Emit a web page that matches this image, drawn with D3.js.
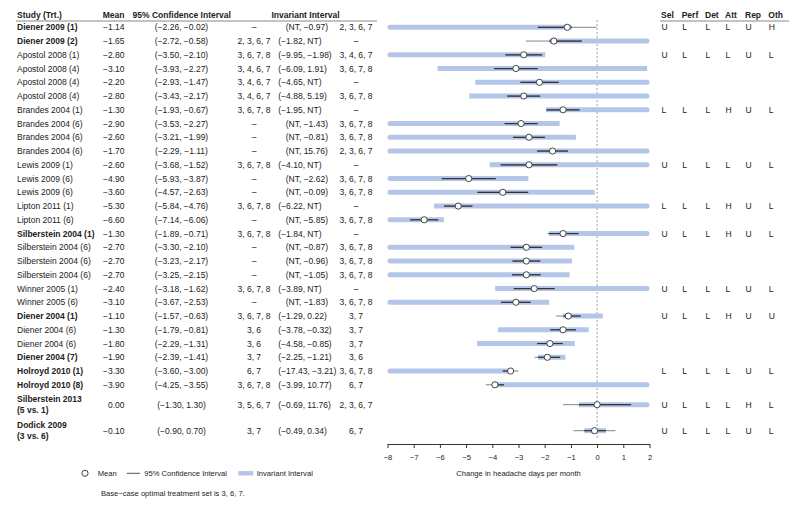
<!DOCTYPE html>
<html><head><meta charset="utf-8">
<script src="https://cdn.jsdelivr.net/npm/d3@7"></script>
<style>
body{margin:0;background:#fff;}
text{font-family:"Liberation Sans",Arial,Helvetica,sans-serif;fill:#222;}
</style></head>
<body><svg id="c" width="800" height="509"></svg>
<script>
const studies = ["Diener 2009 (1)","Diener 2009 (2)","Apostol 2008 (1)","Apostol 2008 (4)","Apostol 2008 (4)","Apostol 2008 (4)","Brandes 2004 (1)","Brandes 2004 (6)","Brandes 2004 (6)","Brandes 2004 (6)","Lewis 2009 (1)","Lewis 2009 (6)","Lewis 2009 (6)","Lipton 2011 (1)","Lipton 2011 (6)","Silberstein 2004 (1)","Silberstein 2004 (6)","Silberstein 2004 (6)","Silberstein 2004 (6)","Winner 2005 (1)","Winner 2005 (6)","Diener 2004 (1)","Diener 2004 (6)","Diener 2004 (6)","Diener 2004 (7)","Holroyd 2010 (1)","Holroyd 2010 (8)","Silberstein 2013|(5 vs. 1)","Dodick 2009|(3 vs. 6)"];
const boldRows = [1,1,0,0,0,0,0,0,0,0,0,0,0,0,0,1,0,0,0,0,0,1,0,0,1,1,1,1,1];
const means = [-1.14,-1.65,-2.80,-3.10,-2.20,-2.80,-1.30,-2.90,-2.60,-1.70,-2.60,-4.90,-3.60,-5.30,-6.60,-1.30,-2.70,-2.70,-2.70,-2.40,-3.10,-1.10,-1.30,-1.80,-1.90,-3.30,-3.90,0.00,-0.10];
const ciLow = [-2.26,-2.72,-3.50,-3.93,-2.93,-3.43,-1.93,-3.53,-3.21,-2.29,-3.68,-5.93,-4.57,-5.84,-7.14,-1.89,-3.30,-3.23,-3.25,-3.18,-3.67,-1.57,-1.79,-2.29,-2.39,-3.60,-4.25,-1.30,-0.90];
const ciHigh = [-0.02,-0.58,-2.10,-2.27,-1.47,-2.17,-0.67,-2.27,-1.99,-1.11,-1.52,-3.87,-2.63,-4.76,-6.06,-0.71,-2.10,-2.17,-2.15,-1.62,-2.53,-0.63,-0.81,-1.31,-1.41,-3.00,-3.55,1.30,0.70];
const setLow = ["–","2, 3, 6, 7","3, 6, 7, 8","3, 4, 6, 7","3, 4, 6, 7","3, 4, 6, 7","3, 6, 7, 8","–","–","–","3, 6, 7, 8","–","–","3, 6, 7, 8","–","3, 6, 7, 8","–","–","–","3, 6, 7, 8","–","3, 6, 7, 8","3, 6","3, 6","3, 7","6, 7","3, 6, 7, 8","3, 5, 6, 7","3, 7"];
const invLow = [null,-1.82,-9.95,-6.09,-4.65,-4.88,-1.95,null,null,null,-4.10,null,null,-6.22,null,-1.84,null,null,null,-3.89,null,-1.29,-3.78,-4.58,-2.25,-17.43,-3.99,-0.69,-0.49];
const invHigh = [-0.97,null,-1.98,1.91,null,5.19,null,-1.43,-0.81,15.76,null,-2.62,-0.09,null,-5.85,null,-0.87,-0.96,-1.05,null,-1.83,0.22,-0.32,-0.85,-1.21,-3.21,10.77,11.76,0.34];
const setHigh = ["2, 3, 6, 7","–","3, 4, 6, 7","3, 6, 7, 8","–","3, 6, 7, 8","–","3, 6, 7, 8","3, 6, 7, 8","2, 3, 6, 7","–","3, 6, 7, 8","3, 6, 7, 8","–","3, 6, 7, 8","–","3, 6, 7, 8","3, 6, 7, 8","3, 6, 7, 8","–","3, 6, 7, 8","3, 7","3, 7","3, 7","3, 6","3, 6, 7, 8","6, 7","2, 3, 6, 7","6, 7"];
const biasCols = ["Sel","Perf","Det","Att","Rep","Oth"];
const biasRows = {0:"ULLLUH",2:"ULLLUL",6:"LLLHUL",10:"ULLLUL",13:"LLLHUL",15:"ULLHUL",19:"ULLLUL",21:"ULLHUU",25:"LLLLUL",27:"ULLLHL",28:"ULLLUL"};
const xTicks = [-8,-7,-6,-5,-4,-3,-2,-1,0,1,2];
const xDomain = [-8,2];

const svg = d3.select("#c");
const fs = 8.5;
const x = d3.scaleLinear().domain(xDomain).range([387.5,649.5]);
const fmt = v => (v<0?"−":"") + Math.abs(v).toFixed(2);

// row layout
const unitH = 13.75, dblH = 26;
let cur = 27.3 - unitH/2;
const yC = studies.map(s => { const h = s.includes("|") ? dblH : unitH; const c = cur + h/2; cur += h; return c; });

// headers
const hdr = svg.append("g").attr("font-size",fs).attr("font-weight","bold");
const hy = 17.8;
hdr.append("text").attr("x",17).attr("y",hy).text("Study (Trt.)");
hdr.append("text").attr("x",124.5).attr("y",hy).attr("text-anchor","end").text("Mean");
hdr.append("text").attr("x",181.7).attr("y",hy).attr("text-anchor","middle").text("95% Confidence Interval");
hdr.append("text").attr("x",305.5).attr("y",hy).attr("text-anchor","middle").text("Invariant Interval");
const biasX = [661,681.7,705,725,745,768.3];
biasCols.forEach((b,i)=>hdr.append("text").attr("x",biasX[i]).attr("y",hy).text(b));
svg.append("line").attr("x1",16).attr("x2",377).attr("y1",21).attr("y2",21).attr("stroke","#888").attr("stroke-width",1);
svg.append("line").attr("x1",660).attr("x2",789).attr("y1",21).attr("y2",21).attr("stroke","#888").attr("stroke-width",1);

// table
const tb = svg.append("g").attr("font-size",fs);
studies.forEach((s,i)=>{
  const y = yC[i];
  const parts = s.split("|");
  const t = tb.append("text").attr("x",17).attr("font-weight",boldRows[i]?"bold":"normal");
  if(parts.length===1){ t.attr("y",y).attr("dy","0.35em").text(s); }
  else { parts.forEach((p,k)=>t.append("tspan").attr("x",17).attr("y",y+(k===0?-5.5:5.5)).attr("dy","0.35em").text(p)); }
  tb.append("text").attr("x",124.5).attr("y",y).attr("dy","0.35em").attr("text-anchor","end").text(fmt(means[i]));
  tb.append("text").attr("x",181.5).attr("y",y).attr("dy","0.35em").attr("text-anchor","middle").text("("+fmt(ciLow[i])+", "+fmt(ciHigh[i])+")");
  tb.append("text").attr("x",254).attr("y",y).attr("dy","0.35em").attr("text-anchor","middle").text(setLow[i]);
  const lo = invLow[i]===null?"NT":fmt(invLow[i]);
  const hi = invHigh[i]===null?"NT":fmt(invHigh[i]);
  tb.append("text").attr("x",invLow[i]===null?285.7:278.3).attr("y",y).attr("dy","0.35em").text("("+lo+", "+hi+")");
  tb.append("text").attr("x",356).attr("y",y).attr("dy","0.35em").attr("text-anchor","middle").text(setHigh[i]);
  if(biasRows[i]){
    biasRows[i].split("").forEach((c,k)=>tb.append("text").attr("x",biasX[k]+0.5).attr("y",y).attr("dy","0.35em").text(c));
  }
});

// zero line
svg.append("line").attr("x1",x(0)).attr("x2",x(0)).attr("y1",20).attr("y2",439)
  .attr("stroke","#888").attr("stroke-width",0.8).attr("stroke-dasharray","2,2");

// invariant bars
const barH = 5, r = barH/2, barCol = "#b3c6ea";
const plot = svg.append("g");
studies.forEach((s,i)=>{
  const lo = invLow[i]===null ? -Infinity : invLow[i];
  const hi = invHigh[i]===null ? Infinity : invHigh[i];
  const x0 = x(Math.max(lo,xDomain[0])), x1 = x(Math.min(hi,xDomain[1]));
  const rl = lo < xDomain[0], rr = hi > xDomain[1];
  const yt = yC[i]-r, yb = yC[i]+r;
  let p = "";
  if(rl){ p += `M${x0+r},${yb} A${r},${r} 0 0 1 ${x0+r},${yt}`; } else { p += `M${x0},${yb} L${x0},${yt}`; }
  if(rr){ p += ` L${x1-r},${yt} A${r},${r} 0 0 1 ${x1-r},${yb}`; } else { p += ` L${x1},${yt} L${x1},${yb}`; }
  p += " Z";
  plot.append("path").attr("d",p).attr("fill",barCol);
});

// CI lines
studies.forEach((s,i)=>{
  const y = yC[i];
  plot.append("line").attr("x1",x(ciLow[i])).attr("x2",x(ciHigh[i])).attr("y1",y).attr("y2",y)
    .attr("stroke","#777").attr("stroke-width",0.9);
  const lo = invLow[i]===null ? -Infinity : invLow[i];
  const hi = invHigh[i]===null ? Infinity : invHigh[i];
  const a = Math.max(ciLow[i],lo), b = Math.min(ciHigh[i],hi);
  if(b>a) plot.append("line").attr("x1",x(a)).attr("x2",x(b)).attr("y1",y).attr("y2",y)
    .attr("stroke","#333").attr("stroke-width",1.2);
});
// means
plot.selectAll("circle.m").data(means).join("circle").attr("class","m")
  .attr("cx",d=>x(d)).attr("cy",(d,i)=>yC[i]).attr("r",3.1)
  .attr("fill","#fff").attr("stroke","#333").attr("stroke-width",0.9);

// axis
const ax = svg.append("g").attr("transform","translate(0,444)")
  .call(d3.axisBottom(x).tickValues(xTicks).tickSize(4).tickSizeOuter(0).tickPadding(7)
    .tickFormat(d=>d<0?"−"+Math.abs(d):String(d)));
ax.select(".domain").attr("stroke","#333");
ax.selectAll(".tick line").attr("stroke","#333");
ax.selectAll(".tick text").attr("font-size",7.6).attr("font-family","Liberation Sans, Arial, sans-serif").attr("fill","#222");
svg.append("text").attr("x",518.5).attr("y",476.3).attr("text-anchor","middle").attr("font-size",7.6).text("Change in headache days per month");

// legend
const lg = svg.append("g").attr("font-size",7.6);
const ly = 473.3;
lg.append("circle").attr("cx",85).attr("cy",ly).attr("r",3.1).attr("fill","#fff").attr("stroke","#333").attr("stroke-width",0.9);
lg.append("text").attr("x",97.7).attr("y",ly).attr("dy","0.35em").text("Mean");
lg.append("line").attr("x1",126.7).attr("x2",140).attr("y1",ly).attr("y2",ly).attr("stroke","#555").attr("stroke-width",1);
lg.append("text").attr("x",144.3).attr("y",ly).attr("dy","0.35em").text("95% Confidence Interval");
lg.append("rect").attr("x",238.3).attr("y",ly-2.2).attr("width",15).attr("height",4.4).attr("fill",barCol);
lg.append("text").attr("x",256.7).attr("y",ly).attr("dy","0.35em").text("Invariant Interval");
svg.append("text").attr("x",101).attr("y",493.7).attr("dy","0.35em").attr("font-size",7.6).text("Base−case optimal treatment set is 3, 6, 7.");
</script></body></html>
